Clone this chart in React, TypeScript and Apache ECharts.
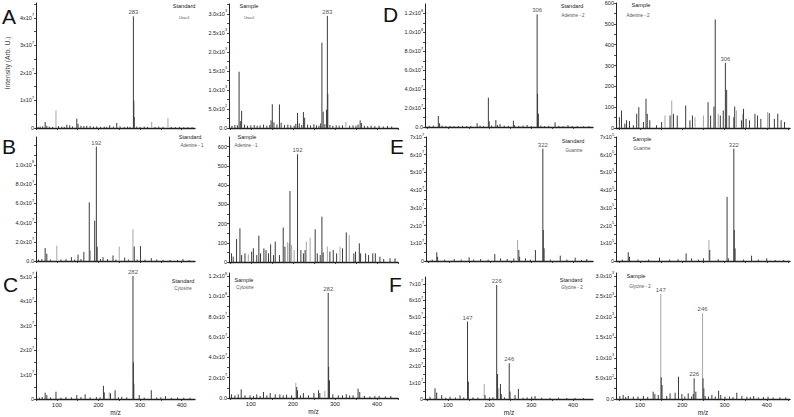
import React, { useEffect, useRef } from 'react';
import * as echarts from 'echarts';

type Peak = [number, number, number]; // m/z, intensity, tone (0 = dark, 1 = light)
type PeakLabel = [number, number, string];

// ---------- Row 1 : Uracil (A) / Adenine - 2 (D) ----------
const peaksAStd: Peak[] = [
  [55, 4e5, 0], [60, 5e5, 0], [66, 6e5, 0], [72, 2.2e6, 0], [76, 8e5, 0], [82, 5e5, 0], [90, 4e5, 0],
  [98, 6.4e6, 1], [104, 7e5, 0], [112, 5e5, 0], [118, 4e5, 0], [124, 1.2e6, 0], [131, 1.0e6, 0],
  [138, 6e5, 0], [148, 3.4e6, 0], [151, 1.5e6, 0], [158, 8e5, 0], [165, 7e5, 0], [172, 8e5, 0],
  [180, 7e5, 0], [188, 5e5, 0], [196, 6e5, 0], [205, 4e5, 0], [214, 5e5, 0], [220, 4e5, 0],
  [227, 1.0e6, 0], [236, 5e5, 0], [244, 1.8e6, 0], [252, 6e5, 0], [262, 4e5, 0], [270, 5e5, 0],
  [276, 4e5, 0], [284, 4.06e7, 0], [285, 1.0e7, 0], [286, 4e6, 0], [292, 5e5, 0], [300, 4e5, 0],
  [310, 5e5, 0], [318, 4e5, 0], [328, 2.2e6, 1], [336, 4e5, 0], [345, 5e5, 0], [355, 4e5, 0],
  [367, 3.6e6, 1], [375, 4e5, 0], [385, 3e5, 0], [395, 4e5, 0], [405, 3e5, 0], [415, 3e5, 0], [425, 3e5, 0],
];
const labelsAStd: PeakLabel[] = [[284, 4.06e7, '283']];
const yTicksAStd = [0, 1e7, 2e7, 3e7, 4e7];
const yLabelsAStd = ['0', '1x10^7', '2x10^7', '3x10^7', '4x10^7'];

const peaksASmp: Peak[] = [
  [55, 60, 0], [62, 80, 0], [68, 70, 0], [72, 1480, 0], [75, 180, 0], [78, 450, 0], [85, 90, 0],
  [92, 60, 0], [100, 70, 0], [108, 80, 0], [115, 60, 0], [122, 70, 0], [130, 90, 0], [138, 60, 0],
  [145, 80, 0], [148, 200, 0], [151, 625, 0], [155, 150, 0], [162, 90, 0], [168, 620, 0], [172, 140, 0],
  [180, 80, 0], [188, 90, 0], [195, 70, 0], [203, 60, 0], [207, 110, 0], [211, 396, 0], [215, 120, 0],
  [221, 80, 0], [225, 420, 0], [228, 270, 0], [235, 90, 0], [242, 70, 0], [250, 100, 0], [256, 70, 0],
  [262, 60, 0], [266, 120, 0], [269, 2243, 0], [272, 430, 0], [276, 100, 0], [280, 480, 0], [282, 2947, 0],
  [283, 900, 0], [288, 80, 0], [295, 60, 0], [303, 70, 0], [310, 60, 0], [318, 70, 0], [326, 160, 1],
  [335, 60, 0], [343, 70, 0], [350, 60, 0], [355, 90, 0], [360, 200, 0], [363, 130, 0], [370, 60, 0],
  [378, 50, 0], [386, 60, 0], [395, 50, 0], [405, 60, 0], [415, 40, 0], [425, 50, 0], [435, 40, 0],
];
const labelsASmp: PeakLabel[] = [[282, 2947, '283']];
const yTicksASmp = [0, 500, 1000, 1500, 2000, 2500, 3000];
const yLabelsASmp = ['0.0', '5.0x10^2', '1.0x10^3', '1.5x10^3', '2.0x10^3', '2.5x10^3', '3.0x10^3'];

const peaksDStd: Peak[] = [
  [55, 1.2e6, 0], [65, 1.5e6, 0], [77, 1.16e7, 0], [80, 4e6, 0], [86, 1.5e6, 0], [95, 1e6, 0],
  [105, 1.2e6, 0], [115, 1e6, 0], [125, 1e6, 0], [135, 1.2e6, 0], [145, 1e6, 0], [155, 1.2e6, 0],
  [170, 4e6, 0], [177, 1.5e6, 0], [185, 1e6, 0], [197, 3.1e7, 0], [199, 6e6, 0], [205, 1.5e6, 0],
  [215, 7.4e6, 0], [219, 2e6, 0], [225, 3e6, 0], [235, 1.5e6, 0], [245, 1.2e6, 0], [257, 6.7e6, 0],
  [260, 2e6, 0], [270, 1.2e6, 0], [280, 1.5e6, 0], [290, 2e6, 0], [300, 1e6, 0], [314, 1.19e8, 0],
  [315, 3.5e7, 0], [317, 1.4e7, 0], [323, 1.5e6, 0], [332, 1e6, 0], [342, 1.2e6, 0], [357, 5e6, 0],
  [366, 1.2e6, 0], [376, 1e6, 0], [388, 2e6, 0], [398, 1e6, 0], [410, 1e6, 0], [425, 8e5, 0], [438, 8e5, 0],
];
const labelsDStd: PeakLabel[] = [[314, 1.19e8, '306']];
const yTicksDStd = [0, 2e7, 4e7, 6e7, 8e7, 1e8, 1.2e8];
const yLabelsDStd = ['0.0', '2.0x10^7', '4.0x10^7', '6.0x10^7', '8.0x10^7', '1.0x10^8', '1.2x10^8'];

const peaksDSmp: Peak[] = [
  [51, 52, 0], [56, 84, 0], [64, 21, 0], [68, 37, 0], [75, 33, 0], [84, 13, 0], [92, 68, 0], [97, 100, 0],
  [108, 29, 0], [114, 141, 0], [117, 68, 0], [123, 37, 0], [139, 13, 0], [151, 29, 0], [159, 60, 1],
  [171, 60, 0], [175, 132, 1], [179, 68, 0], [188, 60, 0], [208, 108, 0], [218, 37, 0], [224, 60, 0],
  [230, 52, 1], [250, 60, 1], [261, 124, 0], [267, 60, 0], [275, 103, 0], [278, 521, 0], [285, 68, 1],
  [290, 60, 0], [297, 84, 0], [302, 313, 0], [305, 183, 0], [311, 60, 0], [322, 52, 0], [324, 103, 0],
  [328, 84, 1], [340, 37, 0], [344, 68, 0], [345, 92, 0], [351, 44, 0], [359, 37, 0], [372, 68, 0],
  [378, 60, 0], [386, 44, 0], [402, 76, 1], [406, 71, 0], [418, 44, 0], [426, 68, 0], [434, 37, 0], [442, 29, 0],
];
const labelsDSmp: PeakLabel[] = [[302, 313, '306']];
const yTicksDSmp = [0, 100, 200, 300, 400, 500, 600];
const yLabelsDSmp = ['0', '100', '200', '300', '400', '500', '600'];

// ---------- Row 2 : Adenine - 1 (B) / Guanine (E) ----------
const peaksBStd: Peak[] = [
  [56, 1.5e6, 0], [64, 2e6, 0], [72, 1.35e7, 0], [76, 7.6e6, 0], [85, 1.5e6, 0], [100, 1.6e7, 1],
  [110, 1.5e6, 0], [122, 2e6, 0], [135, 4e6, 0], [143, 1.5e6, 0], [151, 6.6e6, 0], [158, 2e6, 0],
  [165, 9.3e6, 0], [178, 6.1e7, 0], [181, 1.1e7, 1], [191, 4.2e7, 0], [195, 1.19e8, 0], [197, 1.5e7, 0],
  [205, 2e6, 0], [211, 4e6, 0], [222, 2e6, 0], [235, 5.8e6, 0], [242, 1.5e6, 0], [250, 1.5e7, 1],
  [263, 3.5e6, 0], [272, 1.5e6, 0], [283, 3.3e7, 1], [286, 1.5e7, 0], [293, 1.5e6, 0], [301, 1.55e7, 0],
  [312, 1.5e6, 0], [327, 3e6, 0], [340, 1.5e6, 0], [355, 1.2e6, 0], [372, 1.2e6, 0], [390, 1e6, 0],
  [403, 2e6, 0], [418, 1e6, 0],
];
const labelsBStd: PeakLabel[] = [[195, 1.19e8, '192']];
const yTicksBStd = [0, 2e7, 4e7, 6e7, 8e7, 1e8, 1.2e8];
const yLabelsBStd = ['0.0', '2.0x10^7', '4.0x10^7', '6.0x10^7', '8.0x10^7', '1.0x10^8', ''];

const peaksBSmp: Peak[] = [
  [54, 45, 0], [58, 28, 0], [66, 120, 0], [74, 175, 0], [78, 36, 0], [86, 45, 0], [94, 40, 1],
  [102, 54, 0], [106, 71, 0], [114, 36, 0], [119, 137, 0], [123, 45, 0], [131, 71, 0], [136, 62, 0],
  [142, 45, 0], [147, 92, 0], [154, 36, 0], [158, 106, 0], [168, 36, 0], [177, 179, 0], [181, 80, 0],
  [187, 102, 1], [191, 97, 1], [193, 369, 0], [197, 88, 1], [203, 62, 1], [211, 560, 0], [219, 62, 0],
  [225, 45, 0], [229, 62, 0], [232, 106, 1], [241, 127, 1], [253, 170, 0], [258, 45, 0], [265, 36, 0],
  [269, 236, 0], [272, 50, 0], [282, 80, 1], [288, 54, 0], [296, 62, 0], [304, 45, 0], [312, 80, 1],
  [318, 71, 0], [327, 154, 0], [334, 140, 1], [345, 45, 0], [349, 54, 0], [358, 97, 0], [361, 45, 0],
  [373, 45, 0], [380, 36, 0], [390, 45, 0], [396, 45, 0], [407, 28, 0], [416, 16, 0], [431, 19, 0], [443, 19, 0],
];
const labelsBSmp: PeakLabel[] = [[211, 560, '192']];
const yTicksBSmp = [0, 100, 200, 300, 400, 500, 600];
const yLabelsBSmp = ['0', '100', '200', '300', '400', '500', '600'];

const peaksEStd: Peak[] = [
  [60, 8e5, 0], [71, 4.9e6, 0], [73, 2.4e6, 0], [90, 8e5, 0], [113, 1.1e6, 0], [130, 8e5, 0],
  [149, 2.1e6, 0], [160, 8e5, 0], [177, 1.1e6, 0], [195, 8e5, 0], [211, 3.9e6, 0], [225, 1.5e6, 0],
  [241, 1.1e6, 0], [257, 1.5e6, 0], [266, 1.18e7, 1], [269, 6.2e6, 0], [271, 2.4e6, 0], [285, 1.5e6, 0],
  [297, 8e5, 0], [309, 6.2e6, 0], [327, 6.34e7, 0], [328, 1.75e7, 0], [330, 7.1e6, 0], [345, 8e5, 0],
  [369, 3e6, 0], [385, 8e5, 0], [405, 1.9e6, 0], [420, 6e5, 0], [433, 1.1e6, 0],
];
const labelsEStd: PeakLabel[] = [[327, 6.34e7, '322']];
const yTicksEStd = [0, 1e7, 2e7, 3e7, 4e7, 5e7, 6e7, 7e7];
const yLabelsEStd = ['0', '1x10^7', '2x10^7', '3x10^7', '4x10^7', '5x10^7', '6x10^7', '7x10^7'];

const peaksESmp: Peak[] = [
  [58, 8e3, 0], [72, 4.9e4, 0], [75, 2.4e4, 0], [95, 8e3, 0], [120, 8e3, 0], [146, 1.9e4, 0],
  [170, 8e3, 0], [190, 1e4, 0], [209, 4.3e4, 0], [222, 1.5e4, 0], [238, 8e3, 0], [250, 1.5e4, 0],
  [263, 1.18e5, 1], [265, 6.2e4, 0], [285, 1e4, 0], [306, 3.62e5, 0], [309, 1.5e4, 0], [322, 6.34e5, 0],
  [323, 1.75e5, 0], [325, 7.1e4, 0], [345, 8e3, 0], [364, 3e4, 0], [380, 8e3, 0], [400, 1.5e4, 0],
  [420, 6e3, 0], [440, 6e3, 0],
];
const labelsESmp: PeakLabel[] = [[322, 6.34e5, '322']];
const yTicksESmp = [0, 1e5, 2e5, 3e5, 4e5, 5e5, 6e5, 7e5];
const yLabelsESmp = ['0', '1x10^5', '2x10^5', '3x10^5', '4x10^5', '5x10^5', '6x10^5', '7x10^5'];

// ---------- Row 3 : Cytosine (C) / Glycine - 2 (F) ----------
const peaksCStd: Peak[] = [
  [58, 6e5, 0], [65, 8e5, 0], [72, 2.6e6, 0], [76, 1.6e6, 0], [85, 7e5, 0], [98, 3.0e6, 0], [110, 6e5, 0],
  [122, 8e5, 0], [135, 7e5, 0], [148, 1.6e6, 0], [158, 8e5, 0], [168, 1.9e6, 0], [180, 7e5, 0],
  [195, 8e5, 0], [204, 7e5, 0], [212, 5.4e6, 0], [214, 2.7e6, 0], [226, 2.7e6, 1], [229, 2.3e6, 0],
  [240, 3.6e6, 0], [248, 7e5, 0], [256, 9e5, 0], [268, 7e5, 0], [283, 5.04e7, 0], [284, 1.5e7, 0],
  [285, 6.3e6, 0], [298, 1.6e6, 0], [310, 6e5, 0], [327, 3.6e6, 0], [340, 6e5, 0], [350, 7e5, 0],
  [361, 1.2e6, 0], [375, 5e5, 0], [390, 6e5, 0], [405, 5e5, 0], [420, 5e5, 0],
];
const labelsCStd: PeakLabel[] = [[283, 5.04e7, '282']];
const yTicksCStd = [0, 1e7, 2e7, 3e7, 4e7, 5e7];
const yLabelsCStd = ['0', '1x10^7', '2x10^7', '3x10^7', '4x10^7', '5x10^7'];

const peaksCSmp: Peak[] = [
  [54, 3.6e6, 0], [62, 2.6e6, 0], [70, 3.6e6, 0], [77, 8.5e6, 0], [86, 2.6e6, 0], [98, 2.6e6, 0],
  [106, 2e6, 0], [114, 3.6e6, 0], [122, 2e6, 0], [130, 5.9e6, 0], [138, 2.6e6, 0], [146, 4.9e6, 0],
  [158, 3.6e6, 0], [169, 3.6e6, 0], [177, 2.6e6, 0], [185, 3.3e6, 0], [197, 2.6e6, 0], [207, 1.48e7, 1],
  [209, 1.08e7, 0], [211, 7.6e6, 0], [218, 2.6e6, 0], [225, 4.9e6, 0], [237, 2.6e6, 0], [250, 4.9e6, 0],
  [261, 7.6e6, 0], [264, 4.9e6, 0], [276, 6.9e6, 1], [284, 1.035e8, 0], [285, 3.06e7, 0], [287, 1.74e7, 0],
  [295, 3.6e6, 0], [308, 2.6e6, 0], [318, 2.6e6, 0], [327, 3.6e6, 0], [335, 2.6e6, 0], [343, 2.6e6, 0],
  [355, 9.2e6, 0], [359, 5.9e6, 0], [370, 2e6, 0], [383, 1.6e6, 0], [395, 2e6, 0], [405, 2e6, 0],
  [420, 1.6e6, 0], [433, 2e6, 0],
];
const labelsCSmp: PeakLabel[] = [[284, 1.035e8, '282']];
const yTicksCSmp = [0, 2e7, 4e7, 6e7, 8e7, 1e8, 1.2e8];
const yLabelsCSmp = ['0.0', '2.0x10^7', '4.0x10^7', '6.0x10^7', '8.0x10^7', '1.0x10^8', '1.2x10^8'];

const peaksFStd: Peak[] = [
  [57, 1.4e6, 0], [69, 6.5e6, 0], [73, 3.9e6, 0], [85, 2.4e6, 0], [95, 8e5, 0], [105, 1.4e6, 0],
  [118, 9e5, 0], [129, 2.2e6, 0], [138, 1e6, 0], [147, 4.71e7, 0], [149, 1.06e7, 0], [160, 1e6, 0],
  [172, 9e5, 0], [187, 9.1e6, 1], [189, 2.4e6, 0], [200, 1e6, 0], [208, 1.2e6, 0], [217, 6.94e7, 0],
  [219, 1.52e7, 0], [222, 6.5e6, 1], [226, 9.1e6, 0], [228, 3e6, 0], [236, 1e6, 0], [247, 2.17e7, 0],
  [249, 4.5e6, 0], [261, 2.4e6, 0], [269, 6.1e6, 0], [280, 8e5, 0], [290, 1e6, 0], [301, 1.4e6, 0],
  [309, 1.8e6, 0], [325, 8e5, 0], [345, 7e5, 0], [365, 8e5, 0], [385, 6e5, 0], [405, 7e5, 0], [425, 6e5, 0],
];
const labelsFStd: PeakLabel[] = [[147, 4.71e7, '147'], [217, 6.94e7, '226'], [247, 2.17e7, '246']];
const yTicksFStd = [0, 1e7, 2e7, 3e7, 4e7, 5e7, 6e7, 7e7];
const yLabelsFStd = ['0', '1x10^7', '2x10^7', '3x10^7', '4x10^7', '5x10^7', '6x10^7', '7x10^7'];

const peaksFSmp: Peak[] = [
  [52, 73, 0], [60, 98, 0], [66, 50, 0], [72, 73, 0], [84, 57, 0], [95, 60, 0], [108, 73, 0],
  [118, 50, 0], [131, 179, 0], [135, 122, 0], [143, 98, 0], [149, 2561, 1], [150, 528, 0], [152, 341, 0],
  [163, 73, 0], [171, 138, 0], [183, 154, 0], [191, 545, 0], [199, 122, 0], [206, 60, 0], [214, 138, 0],
  [222, 60, 0], [226, 122, 0], [228, 504, 0], [232, 179, 0], [248, 2089, 1], [249, 504, 0], [251, 260, 0],
  [254, 73, 0], [262, 60, 0], [270, 98, 0], [278, 60, 0], [286, 203, 0], [291, 98, 0], [301, 57, 0],
  [312, 60, 0], [320, 50, 0], [329, 154, 0], [341, 73, 0], [353, 57, 0], [361, 50, 0], [369, 73, 0],
  [380, 40, 0], [392, 50, 0], [403, 57, 0], [415, 40, 0], [431, 41, 0], [445, 40, 0],
];
const labelsFSmp: PeakLabel[] = [[149, 2561, '147'], [228, 504, '226'], [248, 2089, '246']];
const yTicksFSmp = [0, 500, 1000, 1500, 2000, 2500, 3000];
const yLabelsFSmp = ['0.0', '5.0x10^2', '1.0x10^3', '1.5x10^3', '2.0x10^3', '2.5x10^3', '3.0x10^3'];

// ---------- axis ticks, shared ----------
const xTickVals = [50, 100, 150, 200, 250, 300, 350, 400, 450];
const xLabelVals = [100, 200, 300, 400];

// ---------- captions ----------
const panelLetters = ['A', 'B', 'C', 'D', 'E', 'F'];
const captions: [string, string][] = [
  ['Standard', 'Uracil'], ['Sample', 'Uracil'], ['Standard', 'Adenine - 2'], ['Sample', 'Adenine - 2'],
  ['Standard', 'Adenine - 1'], ['Sample', 'Adenine - 1'], ['Standard', 'Guanine'], ['Sample', 'Guanine'],
  ['Standard', 'Cytosine'], ['Sample', 'Cytosine'], ['Standard', 'Glycine - 2'], ['Sample', 'Glycine - 2'],
];
const yAxisTitle = 'Intensity (Arb. U.)';
const xAxisTitle = 'm/z';

const DARK = '#3b3b3b';
const LIGHT = '#a6a6a6';
const INK = '#222222';
const FONT = '"Liberation Sans", Arial, sans-serif';

// layout: [left, top, width, height], x range, y max, caption centres
const panels = [
  { box: [36, 3, 159, 125], x: [50, 432], yMax: 4.545e7, peaks: peaksAStd, labels: labelsAStd, yT: yTicksAStd, yL: yLabelsAStd, showX: false, cap: [184, 6, 184, 17] },
  { box: [229, 4, 169, 124], x: [48, 450], yMax: 3260, peaks: peaksASmp, labels: labelsASmp, yT: yTicksASmp, yL: yLabelsASmp, showX: false, cap: [249, 6, 249, 17] },
  { box: [425, 4, 168, 123], x: [45, 448], yMax: 1.3e8, peaks: peaksDStd, labels: labelsDStd, yT: yTicksDStd, yL: yLabelsDStd, showX: false, cap: [572, 6, 573, 15] },
  { box: [616, 2, 174, 126], x: [43, 455], yMax: 600, peaks: peaksDSmp, labels: labelsDSmp, yT: yTicksDSmp, yL: yLabelsDSmp, showX: false, cap: [641, 5, 638, 15] },
  { box: [36, 137, 159, 124], x: [50, 432], yMax: 1.29e8, peaks: peaksBStd, labels: labelsBStd, yT: yTicksBStd, yL: yLabelsBStd, showX: false, cap: [190, 137, 192, 145] },
  { box: [229, 137, 169, 125], x: [48, 450], yMax: 650, peaks: peaksBSmp, labels: labelsBSmp, yT: yTicksBSmp, yL: yLabelsBSmp, showX: false, cap: [247, 137, 246, 145] },
  { box: [426, 137, 167, 124], x: [45, 448], yMax: 7e7, peaks: peaksEStd, labels: labelsEStd, yT: yTicksEStd, yL: yLabelsEStd, showX: false, cap: [573, 141, 574, 150] },
  { box: [616, 137, 174, 124], x: [43, 455], yMax: 7e5, peaks: peaksESmp, labels: labelsESmp, yT: yTicksESmp, yL: yLabelsESmp, showX: false, cap: [642, 139, 642, 148] },
  { box: [36, 272, 159, 128], x: [50, 432], yMax: 5.2e7, peaks: peaksCStd, labels: labelsCStd, yT: yTicksCStd, yL: yLabelsCStd, showX: true, cap: [183, 281, 183, 288] },
  { box: [229, 273, 169, 125], x: [48, 450], yMax: 1.23e8, peaks: peaksCSmp, labels: labelsCSmp, yT: yTicksCSmp, yL: yLabelsCSmp, showX: true, cap: [244, 280, 245, 287] },
  { box: [425, 277, 168, 122], x: [45, 448], yMax: 7.42e7, peaks: peaksFStd, labels: labelsFStd, yT: yTicksFStd, yL: yLabelsFStd, showX: true, cap: [571, 280, 572, 287] },
  { box: [616, 273, 174, 126], x: [43, 455], yMax: 3070, peaks: peaksFSmp, labels: labelsFSmp, yT: yTicksFSmp, yL: yLabelsFSmp, showX: true, cap: [636, 276, 640, 286] },
];
const letterPos: [number, number][] = [[2, 16], [2, 146], [3, 284], [383, 14], [390, 146], [389, 284]];

function richLabel(s: string): string {
  const i = s.indexOf('^');
  if (i < 0) return `{b|${s}}`;
  return `{b|${s.slice(0, i)}}{s|${s.slice(i + 1)}}`;
}

function buildOption() {
  const grid = panels.map((p) => ({ left: p.box[0], top: p.box[1], width: p.box[2], height: p.box[3] }));
  const xAxis = panels.map((p, i) => ({
    type: 'value', gridIndex: i, min: p.x[0], max: p.x[1],
    axisLine: { show: true, onZero: false, lineStyle: { color: INK, width: 1.3 } },
    axisTick: { show: true, length: 2, customValues: xTickVals.filter((v) => v >= p.x[0] && v <= p.x[1]), lineStyle: { color: INK, width: 0.8 } },
    axisLabel: { show: p.showX, customValues: xLabelVals, fontSize: 6, margin: 3, color: INK, fontFamily: FONT },
    splitLine: { show: false },
    name: p.showX ? xAxisTitle : '', nameLocation: 'middle', nameGap: 10,
    nameTextStyle: { fontSize: 6.5, color: INK, fontFamily: FONT },
  }));
  const yAxis = panels.map((p, i) => {
    const step = p.yT[1] - p.yT[0];
    const minor: number[] = [];
    p.yT.forEach((v) => { if (v + step / 2 < p.yMax) minor.push(v + step / 2); });
    const labVals = p.yT.filter((_, k) => p.yL[k] !== '');
    return {
      type: 'value', gridIndex: i, min: 0, max: p.yMax,
      axisLine: { show: true, lineStyle: { color: INK, width: 1 } },
      axisTick: { show: true, length: 2, customValues: [...p.yT, ...minor].sort((a, b) => a - b), lineStyle: { color: INK, width: 0.8 } },
      axisLabel: {
        customValues: labVals, margin: 2,
        formatter: (v: number) => {
          let best = 0;
          p.yT.forEach((t, k) => { if (Math.abs(t - v) < Math.abs(p.yT[best] - v)) best = k; });
          return richLabel(p.yL[best]);
        },
        rich: {
          b: { fontSize: 5.5, fontFamily: FONT, color: INK, lineHeight: 9 },
          s: { fontSize: 3.8, fontFamily: FONT, color: INK, lineHeight: 4, verticalAlign: 'top' },
        },
      },
      splitLine: { show: false },
    };
  });
  const renderStick = (color: string) => (params: any, api: any) => {
    const x = api.value(0);
    const y = api.value(1);
    const p0 = api.coord([x, 0]);
    const p1 = api.coord([x, y]);
    return { type: 'line', shape: { x1: p0[0], y1: p0[1], x2: p1[0], y2: p1[1] }, style: { stroke: color, lineWidth: 1 } };
  };
  const series: any[] = [];
  panels.forEach((p, i) => {
    series.push({
      type: 'custom', xAxisIndex: i, yAxisIndex: i, silent: true, z: 2,
      renderItem: renderStick(LIGHT), encode: { x: 0, y: 1 },
      data: p.peaks.filter((d) => d[2] === 1),
    });
    series.push({
      type: 'custom', xAxisIndex: i, yAxisIndex: i, silent: true, z: 3,
      renderItem: renderStick(DARK), encode: { x: 0, y: 1 },
      data: p.peaks.filter((d) => d[2] === 0),
    });
    series.push({
      type: 'scatter', xAxisIndex: i, yAxisIndex: i, silent: true, symbolSize: 0, z: 4,
      data: p.labels.map((l) => ({ value: [l[0], l[1]], name: l[2] })),
      label: { show: true, position: 'top', distance: 1, formatter: '{b}', fontSize: 6, color: INK, fontFamily: FONT },
    });
  });
  const graphic: any[] = [];
  panelLetters.forEach((t, k) => {
    graphic.push({ type: 'text', x: letterPos[k][0], y: letterPos[k][1], style: { text: t, fontSize: 21, fontFamily: FONT, fill: '#111', textAlign: 'left', textVerticalAlign: 'middle' } });
  });
  panels.forEach((p, i) => {
    graphic.push({ type: 'text', x: p.cap[0], y: p.cap[1], style: { text: captions[i][0], fontSize: 5.6, fontFamily: FONT, fill: INK, textAlign: 'center', textVerticalAlign: 'middle' } });
    graphic.push({ type: 'text', x: p.cap[2], y: p.cap[3], style: { text: captions[i][1], fontSize: i < 2 ? 4 : 4.5, fontFamily: FONT, fill: '#555', textAlign: 'center', textVerticalAlign: 'middle' } });
  });
  graphic.push({ type: 'text', x: 7, y: 63, rotation: Math.PI / 2, style: { text: yAxisTitle, fontSize: 6.8, fontFamily: FONT, fill: '#444', textAlign: 'center', textVerticalAlign: 'middle' } });
  return { animation: false, backgroundColor: '#ffffff', textStyle: { fontFamily: FONT }, grid, xAxis, yAxis, series, graphic };
}

export default function App() {
  const ref = useRef<HTMLDivElement>(null);
  useEffect(() => {
    document.body.style.margin = '0';
    if (!ref.current) return;
    const chart = echarts.init(ref.current, null, { renderer: 'svg' });
    chart.setOption(buildOption() as any);
    return () => chart.dispose();
  }, []);
  return <div ref={ref} style={{ width: 794, height: 417 }} />;
}
